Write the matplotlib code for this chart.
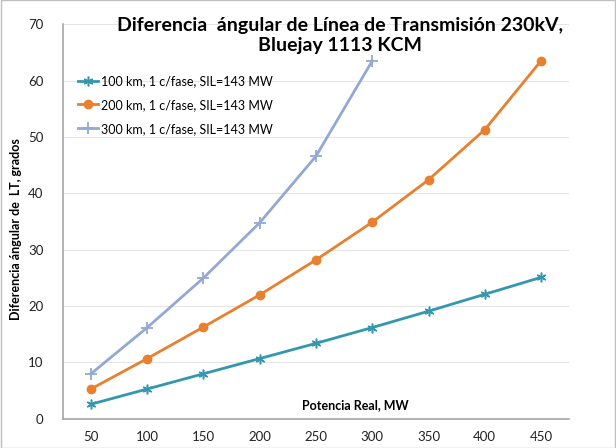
import matplotlib.pyplot as plt
from matplotlib.patches import Rectangle

plt.rcParams['font.family'] = ['Lato', 'DejaVu Sans']

potencia = [50, 100, 150, 200, 250, 300, 350, 400, 450]
ang_100km = [2.6, 5.3, 8.0, 10.7, 13.4, 16.2, 19.1, 22.1, 25.1]
ang_200km = [5.3, 10.7, 16.3, 22.0, 28.2, 34.9, 42.4, 51.3, 63.5]
potencia_300 = [50, 100, 150, 200, 250, 300]
ang_300km = [8.0, 16.2, 25.0, 34.8, 46.6, 63.5]

fig = plt.figure(figsize=(6.16, 4.48), dpi=100)
ax = fig.add_axes([0.102, 0.065, 0.822, 0.881])

ax.plot(potencia, ang_100km, color='#3398ae', lw=2, marker=(6, 2, 0), ms=7, mew=1.1,
        label='100 km, 1 c/fase, SIL=143 MW')
ax.plot(potencia, ang_200km, color='#e8802f', lw=2, marker='o', ms=6,
        label='200 km, 1 c/fase, SIL=143 MW')
ax.plot(potencia_300, ang_300km, color='#93a9d4', lw=2, marker='+', ms=8, mew=1.3,
        label='300 km, 1 c/fase, SIL=143 MW')

ax.set_xlim(25, 475)
ax.set_ylim(0, 70)
ax.set_xticks(potencia)
ax.set_yticks(range(0, 71, 10))
ax.tick_params(axis='both', length=0, labelsize=9.5, colors='#222222')
ax.tick_params(axis='x', pad=9)
ax.tick_params(axis='y', pad=14)
ax.grid(axis='y', color='#e6e6e6', lw=0.8)
ax.set_axisbelow(True)
for s in ['top', 'right']:
    ax.spines[s].set_visible(False)
for s in ['left', 'bottom']:
    ax.spines[s].set_color('#a6a6a6')
    ax.spines[s].set_linewidth(1.2)

ax.set_ylabel('Diferencia ángular de  LT, grados', fontsize=9, fontweight='bold',
              labelpad=2)
ax.yaxis.set_label_coords(-0.08, 0.48)
ax.text(285, 1.4, 'Potencia Real, MW', fontsize=9, fontweight='bold',
        ha='center', va='bottom')
fig.text(0.552, 0.92, 'Diferencia  ángular de Línea de Transmisión 230kV,\nBluejay 1113 KCM',
         ha='center', va='center', fontsize=14, fontweight='bold', linespacing=1.2)

ax.legend(loc='upper left', bbox_to_anchor=(0.008, 0.9), frameon=False,
          fontsize=9, handlelength=1.6, handletextpad=0.2, labelspacing=0.95)

fig.patches.append(Rectangle((0.001, 0.001), 0.998, 0.998, transform=fig.transFigure,
                             fill=False, ec='#bfbfbf', lw=1))

fig.savefig('out.png', dpi=100)
